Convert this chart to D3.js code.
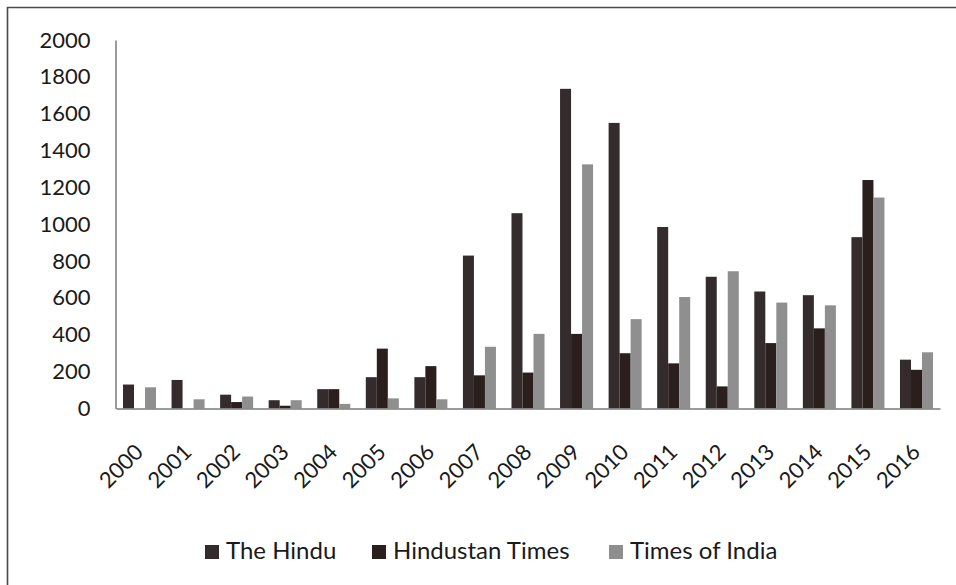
<!DOCTYPE html>
<html>
<head>
<meta charset="utf-8">
<script src="https://cdn.jsdelivr.net/npm/d3@7"></script>
<style>
  html, body { margin: 0; padding: 0; background: #fff; }
  svg { display: block; }
  text { font-family: Lato, "Open Sans", sans-serif; fill: #1a1a1a; }
</style>
</head>
<body>
<svg id="chart" width="956" height="585"></svg>
<script>
// Yearly article counts per newspaper
const years = ["2000","2001","2002","2003","2004","2005","2006","2007","2008","2009","2010","2011","2012","2013","2014","2015","2016"];
const theHindu       = [130, 155, 75, 45, 105, 170, 170, 830, 1060, 1735, 1550, 985, 715, 635, 615, 930, 265];
const hindustanTimes = [0, 0, 35, 15, 105, 325, 230, 180, 195, 405, 300, 245, 120, 355, 435, 1240, 210];
const timesOfIndia   = [115, 50, 65, 45, 25, 55, 50, 335, 405, 1325, 485, 605, 745, 575, 560, 1145, 305];
const seriesNames = ["The Hindu", "Hindustan Times", "Times of India"];
const yTicks = [0, 200, 400, 600, 800, 1000, 1200, 1400, 1600, 1800, 2000];

const colors = ["#342b2c", "#2a1f1d", "#8f8f8f"];
const seriesValues = [theHindu, hindustanTimes, timesOfIndia];

const svg = d3.select("#chart");

// outer frame (left and top edges)
svg.append("path")
  .attr("d", "M7.5,585 L7.5,7.5 L956,7.5")
  .attr("fill", "none")
  .attr("stroke", "#4a4a4a")
  .attr("stroke-width", 1.6);

const x0 = d3.scaleBand().domain(years).range([116, 940]).paddingInner(0.32).paddingOuter(0.144);
const x1 = d3.scaleBand().domain(seriesNames).range([0, x0.bandwidth()]).padding(0);
const y = d3.scaleLinear().domain([0, 2000]).range([408.5, 40]);

// y axis
const yAxis = svg.append("g")
  .attr("transform", "translate(115.5,0)")
  .call(d3.axisLeft(y).tickValues(yTicks).tickFormat(d3.format("d")).tickSize(0).tickPadding(25));
yAxis.select(".domain").attr("stroke", "#7a7a7a").attr("stroke-width", 1.5);
yAxis.selectAll("text").style("font-size", "22px").style("font-family", "Lato, sans-serif").attr("fill", "#1a1a1a");

// bars
const groups = svg.append("g").selectAll("g")
  .data(years)
  .join("g")
  .attr("transform", d => `translate(${x0(d)},0)`);

groups.selectAll("rect")
  .data((d, i) => seriesNames.map((s, k) => ({ s, k, v: seriesValues[k][i] })))
  .join("rect")
  .attr("x", d => x1(d.s))
  .attr("width", x1.bandwidth())
  .attr("y", d => y(d.v))
  .attr("height", d => y(0) - y(d.v))
  .attr("fill", d => colors[d.k]);

// x axis
const xAxis = svg.append("g")
  .attr("transform", `translate(0,${y(0)})`)
  .call(d3.axisBottom(x0).tickSize(0).tickPadding(0));
xAxis.select(".domain").attr("stroke", "#7a7a7a").attr("stroke-width", 1.5);
xAxis.selectAll("text")
  .style("font-size", "22px")
  .style("font-family", "Lato, sans-serif")
  .attr("fill", "#1a1a1a")
  .attr("text-anchor", "end")
  .attr("dy", 0)
  .attr("y", 0)
  .attr("transform", "translate(5,45) rotate(-45)");

// legend
const legendItems = [
  { name: "The Hindu", sx: 205, tx: 226 },
  { name: "Hindustan Times", sx: 372, tx: 393 },
  { name: "Times of India", sx: 609, tx: 630 }
];
const legend = svg.append("g");
legendItems.forEach((it, k) => {
  legend.append("rect")
    .attr("x", it.sx).attr("y", 545)
    .attr("width", 14).attr("height", 14)
    .attr("fill", colors[k]);
  legend.append("text")
    .attr("x", it.tx).attr("y", 559)
    .style("font-size", "24px")
    .text(it.name);
});
</script>
</body>
</html>
